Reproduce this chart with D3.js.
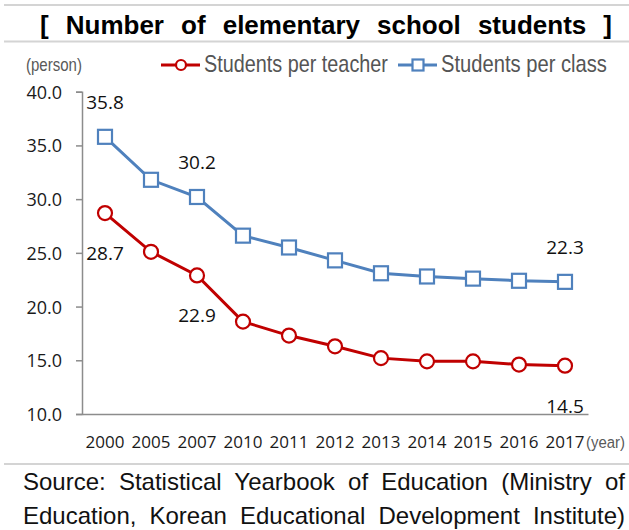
<!DOCTYPE html>
<html>
<head>
<meta charset="utf-8">
<script src="https://cdn.jsdelivr.net/npm/d3@7"></script>
<style>
  html, body { margin: 0; padding: 0; background: #fff; }
  svg { display: block; }
</style>
</head>
<body>
<svg id="chart" width="629" height="530"></svg>
<script>
// Years and series values (persons)
const years = ["2000","2005","2007","2010","2011","2012","2013","2014","2015","2016","2017"];
const perTeacher = [28.7, 25.1, 22.9, 18.6, 17.3, 16.3, 15.2, 14.9, 14.9, 14.6, 14.5];
const perClass   = [35.8, 31.8, 30.2, 26.6, 25.5, 24.3, 23.1, 22.8, 22.6, 22.4, 22.3];
const yTicks = [10, 15, 20, 25, 30, 35, 40];
const seriesNames = ["Students per teacher", "Students per class"];
// Which points carry a value label
const teacherLabels = [0, 2, 10];   // drawn below the point
const classLabels = [0, 2, 10];     // drawn above the point

const RED = "#C00000", BLUE = "#4F81BD";
const SANS = "'Liberation Sans', Arial, sans-serif";
const svg = d3.select("#chart");

// Rule lines
[5, 41.5, 464].forEach(yy => {
  svg.append("line").attr("x1", 4).attr("x2", 629).attr("y1", yy).attr("y2", yy)
    .attr("stroke", "#d4d4d4").attr("stroke-width", 2);
});

// Stretch word gaps so a text line spans a given width
function justify(sel, width) {
  const natural = sel.node().getComputedTextLength();
  const gaps = (sel.text().match(/ /g) || []).length;
  if (gaps > 0) sel.attr("word-spacing", (width - natural) / gaps);
}

const title = svg.append("text").attr("x", 40).attr("y", 34)
  .attr("font-family", SANS)
  .attr("font-weight", "bold").attr("font-size", 26).attr("fill", "#000")
  .text("[ Number of elementary school students ]");
justify(title, 572);

// Scales
const x = d3.scaleBand().domain(years).range([82, 588]).padding(0);
const y = d3.scaleLinear().domain([10, 40]).range([414, 91.7]);
const cx = d => x(d) + x.bandwidth() / 2;

// Y axis
const yAxis = svg.append("g").attr("transform", "translate(82,0)")
  .call(d3.axisLeft(y).tickValues(yTicks).tickFormat(d3.format(".1f"))
    .tickSize(6).tickPadding(14));
yAxis.selectAll("path, line").attr("stroke", "#8c8c8c").attr("stroke-width", 1.5);
yAxis.selectAll("text").attr("font-family", "'Open Sans', sans-serif")
  .attr("font-size", 18).attr("fill", "#1a1a1a").attr("dy", "0.36em");

// X axis
const xAxis = svg.append("g").attr("transform", "translate(0,414)")
  .call(d3.axisBottom(x).tickSize(0).tickSizeOuter(0).tickPadding(22));
xAxis.select("path").attr("stroke", "#8c8c8c").attr("stroke-width", 1.5);
xAxis.selectAll("text").attr("font-family", "'Open Sans', sans-serif")
  .attr("font-size", 17).attr("fill", "#1a1a1a");

// Condensed text helper: narrows a text horizontally to a set width
function condensed(parent, xx, yy, str, size, width, fill) {
  const g = parent.append("g");
  const t = g.append("text").attr("x", 0).attr("y", 0)
    .attr("font-family", SANS).attr("font-size", size).attr("fill", fill)
    .text(str);
  const k = width / t.node().getComputedTextLength();
  g.attr("transform", `translate(${xx},${yy}) scale(${k},1)`);
  return t;
}

// Unit labels
condensed(svg, 26, 71, "(person)", 18, 56, "#595959");
condensed(svg, 586, 448, "(year)", 17, 39, "#595959");

// Lines
const line = d3.line().x((d, i) => cx(years[i])).y(d => y(d));
svg.append("path").datum(perTeacher).attr("d", line)
  .attr("fill", "none").attr("stroke", RED).attr("stroke-width", 3);
svg.append("path").datum(perClass).attr("d", line)
  .attr("fill", "none").attr("stroke", BLUE).attr("stroke-width", 3);

// Markers
svg.append("g").selectAll("circle").data(perTeacher).join("circle")
  .attr("cx", (d, i) => cx(years[i])).attr("cy", d => y(d)).attr("r", 7)
  .attr("fill", "#fff").attr("stroke", RED).attr("stroke-width", 2.2);
const S = 14;
svg.append("g").selectAll("rect").data(perClass).join("rect")
  .attr("x", (d, i) => cx(years[i]) - S / 2).attr("y", d => y(d) - S / 2)
  .attr("width", S).attr("height", S)
  .attr("fill", "#fff").attr("stroke", BLUE).attr("stroke-width", 2.2);

// Value labels
const labelFont = "'Open Sans', sans-serif";
svg.append("g").selectAll("text").data(classLabels).join("text")
  .attr("x", i => cx(years[i])).attr("y", i => y(perClass[i]) - 28)
  .attr("text-anchor", "middle").attr("font-family", labelFont)
  .attr("font-size", 19).attr("fill", "#111")
  .text(i => d3.format(".1f")(perClass[i]));
svg.append("g").selectAll("text").data(teacherLabels).join("text")
  .attr("x", i => cx(years[i])).attr("y", i => y(perTeacher[i]) + 47)
  .attr("text-anchor", "middle").attr("font-family", labelFont)
  .attr("font-size", 19).attr("fill", "#111")
  .text(i => d3.format(".1f")(perTeacher[i]));

// Legend
const legendItems = [
  {name: seriesNames[0], color: RED, shape: "circle", x0: 161, w: 184},
  {name: seriesNames[1], color: BLUE, shape: "square", x0: 398, w: 166}
];
legendItems.forEach(it => {
  const g = svg.append("g").attr("transform", `translate(${it.x0},65)`);
  g.append("line").attr("x1", 0).attr("x2", 39).attr("y1", 0).attr("y2", 0)
    .attr("stroke", it.color).attr("stroke-width", 3);
  if (it.shape === "circle") {
    g.append("circle").attr("cx", 20).attr("cy", 0).attr("r", 5)
      .attr("fill", "#fff").attr("stroke", it.color).attr("stroke-width", 2.2);
  } else {
    g.append("rect").attr("x", 14.5).attr("y", -5.5).attr("width", 11).attr("height", 11)
      .attr("fill", "#fff").attr("stroke", it.color).attr("stroke-width", 2.2);
  }
  condensed(g, 43, 7, it.name, 24, it.w, "#555555");
});

// Source note
const srcLines = [
  "Source: Statistical Yearbook of Education (Ministry of",
  "Education, Korean Educational Development Institute)"
];
srcLines.forEach((t, i) => {
  const s = svg.append("text").attr("x", 23).attr("y", 490 + i * 34)
    .attr("font-family", SANS)
    .attr("font-size", 24).attr("fill", "#111").text(t);
  justify(s, 602);
});
</script>
</body>
</html>
